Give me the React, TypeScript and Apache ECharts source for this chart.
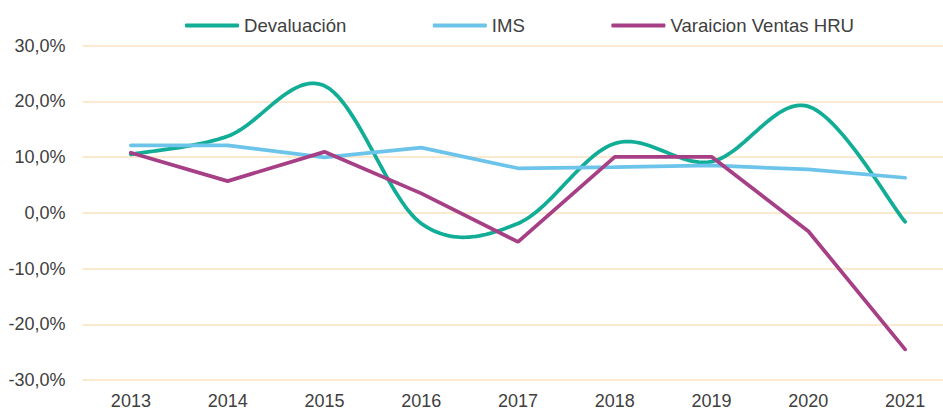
import React, { useEffect, useRef } from "react";
import * as echarts from "echarts";

const years = ["2013", "2014", "2015", "2016", "2017", "2018", "2019", "2020", "2021"];
const devaluacion = [10.5, 13.75, 22.8, -1.9, -1.9, 12.45, 9.2, 19.1, -1.6];
const ims = [12.1, 12.1, 9.95, 11.7, 8.0, 8.2, 8.5, 7.8, 6.3];
const variacionVentas = [10.8, 5.7, 10.95, 3.5, -5.2, 10.05, 10.05, -3.3, -24.5];

const FONT = "'Liberation Sans', Arial, sans-serif";
const TEXT = "#404040";
const TEAL = "#12AD96";
const BLUE = "#6DC4EB";
const PURPLE = "#A63F85";

// Catmull-Rom smoothing (like the spreadsheet's smoothed line), sampled in pixel space
function smoothPoints(pts: number[][]): number[][] {
  const out: number[][] = [];
  const n = pts.length;
  for (let i = 0; i < n - 1; i++) {
    const p0 = pts[Math.max(0, i - 1)];
    const p1 = pts[i];
    const p2 = pts[i + 1];
    const p3 = pts[Math.min(n - 1, i + 2)];
    const c1 = [p1[0] + (p2[0] - p0[0]) / 6, p1[1] + (p2[1] - p0[1]) / 6];
    const c2 = [p2[0] - (p3[0] - p1[0]) / 6, p2[1] - (p3[1] - p1[1]) / 6];
    const steps = 30;
    for (let s = i === 0 ? 0 : 1; s <= steps; s++) {
      const t = s / steps;
      const u = 1 - t;
      const a = u * u * u;
      const b = 3 * u * u * t;
      const c = 3 * u * t * t;
      const d = t * t * t;
      out.push([
        a * p1[0] + b * c1[0] + c * c2[0] + d * p2[0],
        a * p1[1] + b * c1[1] + c * c2[1] + d * p2[1],
      ]);
    }
  }
  return out;
}

export default function App() {
  const ref = useRef<HTMLDivElement>(null);
  useEffect(() => {
    if (!ref.current) return;
    const chart = echarts.init(ref.current, undefined, { renderer: "svg" });
    chart.setOption({
      animation: false,
      backgroundColor: "#ffffff",
      textStyle: { fontFamily: FONT },
      legend: {
        left: 180,
        top: 11,
        icon: "roundRect",
        itemWidth: 54,
        itemHeight: 4,
        itemGap: 86.5,
        textStyle: { fontFamily: FONT, fontSize: 18.6, color: TEXT },
        data: ["Devaluación", "IMS", "Varaicion Ventas HRU"],
      },
      grid: {
        left: 82.5,
        top: 45.7,
        width: 871,
        bottom: 32,
        containLabel: false,
        outerBoundsMode: "none",
      },
      xAxis: {
        type: "category",
        data: years,
        axisLine: { show: false },
        axisTick: { show: false },
        axisLabel: { fontFamily: FONT, fontSize: 18, color: TEXT, margin: 12 },
      },
      yAxis: {
        type: "value",
        min: -30,
        max: 30,
        interval: 10,
        axisLine: { show: false },
        axisTick: { show: false },
        splitLine: { lineStyle: { color: "#FBE3C0", width: 1.5 } },
        axisLabel: {
          fontFamily: FONT,
          fontSize: 18,
          color: TEXT,
          margin: 17,
          formatter: (v: number) => v.toFixed(1).replace(".", ",") + "%",
        },
      },
      series: [
        {
          name: "Devaluación",
          type: "custom",
          data: devaluacion.map((v, i) => [i, v]),
          encode: { x: 0, y: 1 },
          itemStyle: { color: TEAL },
          renderItem: (params: any, api: any) => {
            if (params.dataIndex !== 0) return { type: "group", children: [] };
            const pts = devaluacion.map((v, i) => api.coord([i, v]));
            return {
              type: "polyline",
              shape: { points: smoothPoints(pts) },
              style: { stroke: TEAL, lineWidth: 3.75, fill: "none", lineCap: "round", lineJoin: "round" },
            };
          },
        },
        {
          name: "IMS",
          type: "line",
          data: ims,
          showSymbol: false,
          symbol: "none",
          color: BLUE,
          lineStyle: { width: 3.75, color: BLUE, cap: "round" },
        },
        {
          name: "Varaicion Ventas HRU",
          type: "line",
          data: variacionVentas,
          showSymbol: false,
          symbol: "none",
          color: PURPLE,
          lineStyle: { width: 3.75, color: PURPLE, cap: "round" },
        },
      ],
    });
    return () => chart.dispose();
  }, []);
  return (
    <div
      ref={ref}
      style={{ position: "fixed", left: 0, top: 0, width: 943, height: 412, overflow: "hidden" }}
    />
  );
}
